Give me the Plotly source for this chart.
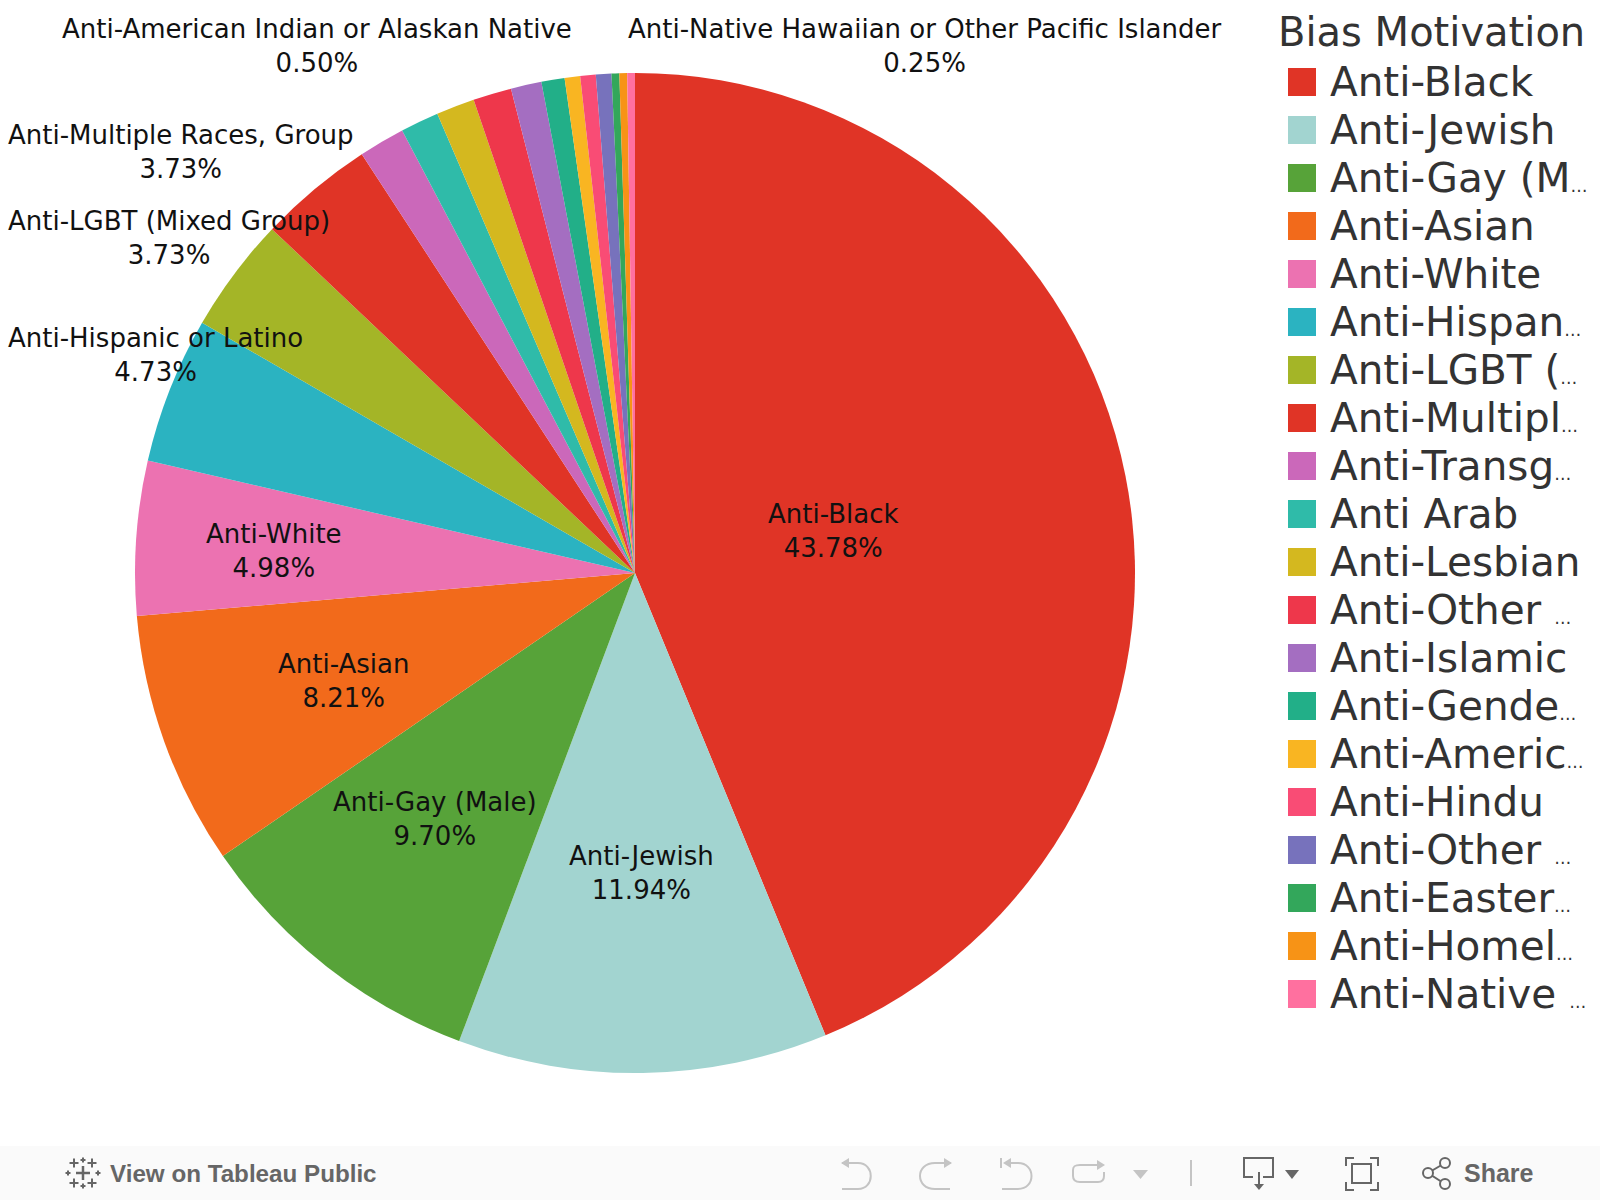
import plotly.graph_objects as go

W, H = 1600, 1200

# ---- data ----
categories = ["Anti-Black", "Anti-Jewish", "Anti-Gay (Male)", "Anti-Asian", "Anti-White",
              "Anti-Hispanic or Latino", "Anti-LGBT (Mixed Group)", "Anti-Multiple Races, Group",
              "Anti-Transgender", "Anti Arab", "Anti-Lesbian", "Anti-Other Race",
              "Anti-Islamic", "Anti-Gender Non-Conforming", "Anti-American Indian or Alaskan Native",
              "Anti-Hindu", "Anti-Other Religion", "Anti-Eastern Orthodox",
              "Anti-Homeless", "Anti-Native Hawaiian or Other Pacific Islander"]
percent = [43.78, 11.94, 9.70, 8.21, 4.98, 4.73, 3.73, 3.73, 1.49, 1.24,
           1.24, 1.24, 0.99, 0.75, 0.50, 0.50, 0.50, 0.25, 0.25, 0.25]
legend_shown = ["Anti-Black", "Anti-Jewish", "Anti-Gay (M|", "Anti-Asian", "Anti-White",
                "Anti-Hispan|", "Anti-LGBT (|", "Anti-Multipl|", "Anti-Transg|", "Anti Arab",
                "Anti-Lesbian", "Anti-Other |", "Anti-Islamic", "Anti-Gende|", "Anti-Americ|",
                "Anti-Hindu", "Anti-Other |", "Anti-Easter|", "Anti-Homel|", "Anti-Native |"]
colors = ["#e03426", "#a2d4d0", "#57a339", "#f26a1b", "#ec72b1", "#2bb3c1", "#a4b527", "#e03426",
          "#cb68ba", "#2fbba9", "#d4b81f", "#ee374b", "#a46ec1", "#22af88", "#f9b522",
          "#f94c75", "#7772bc", "#33a75b", "#f79316", "#ff709f"]

# label placement, in pixels: category -> centre of its two-line label
label_centres = {
    "Anti-Black": (833, 530.5), "Anti-Jewish": (641, 872.5), "Anti-Gay (Male)": (434.5, 818.5),
    "Anti-Asian": (343.5, 680.5), "Anti-White": (274, 550.5), "Anti-Hispanic or Latino": (155, 354.5),
    "Anti-LGBT (Mixed Group)": (169, 238.5), "Anti-Multiple Races, Group": (181, 152),
    "Anti-American Indian or Alaskan Native": (317, 46.5),
    "Anti-Native Hawaiian or Other Pacific Islander": (925, 46.5),
}

FONT = "DejaVu Sans"
TEXT = "#333333"


def fx(x): return x / W
def fy(y): return 1 - y / H


def path(*pts, close=False, **kw):
    d = "M" + " L".join(f"{fx(x):.5f},{fy(y):.5f}" for x, y in pts) + (" Z" if close else "")
    return dict(type="path", path=d, xref="paper", yref="paper", **kw)


def curve(cmds, **kw):
    out = []
    for c in cmds:
        out.append(c[0] + " ".join(f"{fx(c[i]):.5f},{fy(c[i+1]):.5f}" for i in range(1, len(c), 2)))
    return dict(type="path", path=" ".join(out), xref="paper", yref="paper", **kw)


def rect(x0, y0, x1, y1, **kw):
    return dict(type="rect", xref="paper", yref="paper", x0=fx(x0), x1=fx(x1), y0=fy(y0), y1=fy(y1), **kw)


def text(x, y, s, size, color=TEXT, anchor="left", family=FONT):
    return dict(x=fx(x), y=fy(y), xref="paper", yref="paper", text=s, showarrow=False,
                xanchor=anchor, yanchor="middle", align="center",
                font=dict(family=family, size=size, color=color))


fig = go.Figure(go.Pie(
    labels=categories, values=percent, sort=False, direction="clockwise", rotation=0,
    textinfo="none", showlegend=False, marker=dict(colors=colors, line=dict(width=0)),
    domain=dict(x=[135 / W, 1135 / W], y=[1 - 1073 / H, 1 - 73 / H]),
))

shapes, notes = [], []

# slice labels
for name, (x, y) in label_centres.items():
    notes.append(text(x, y, f"{name}<br>{percent[categories.index(name)]:.2f}%", 26, "#111111", "center"))

# legend
notes.append(text(1276, 32, "Bias Motivation", 40))
for i, (lab, col) in enumerate(zip(legend_shown, colors)):
    yc = 82 + 48 * i
    shapes.append(rect(1288, yc - 14, 1316, yc + 14, fillcolor=col, line=dict(width=0)))
    s = lab.replace("|", "<span style='font-size:17px'>…</span>")
    notes.append(text(1328, yc, s, 40.5))

# toolbar
shapes.append(rect(0, 1146, W, H, fillcolor="#fafafa", line=dict(width=0), layer="below"))
GR = "#666666"
LG = "#c4c4c4"
notes.append(text(108, 1173, "<b>View on Tableau Public</b>", 24.2, GR, family="Liberation Sans"))
notes.append(text(1462, 1173, "<b>Share</b>", 25, GR, family="Liberation Sans"))


def plus(x, y, r, w=2):
    shapes.append(path((x - r, y), (x + r, y), line=dict(color=GR, width=w)))
    shapes.append(path((x, y - r), (x, y + r), line=dict(color=GR, width=w)))


plus(83, 1173, 7, 2.5)
for dx, dy in [(-9, -10), (9, -10), (-9, 10), (9, 10)]:
    plus(83 + dx, 1173 + dy, 4.5)
for dx, dy in [(0, -13), (0, 13), (-15, 0), (15, 0)]:
    plus(83 + dx, 1173 + dy, 2.5, 2)

ln = dict(color=LG, width=2)
# undo
shapes.append(curve([("M", 842, 1163), ("L", 858, 1163), ("C", 875, 1163, 875, 1189, 858, 1189), ("L", 842, 1189)], line=ln))
shapes.append(path((841, 1163), (849, 1158), (849, 1168), close=True, fillcolor=LG, line=dict(width=0)))
# redo
shapes.append(curve([("M", 951, 1163), ("L", 935, 1163), ("C", 915, 1163, 915, 1189, 935, 1189), ("L", 950, 1189)], line=ln))
shapes.append(path((952, 1163), (944, 1158), (944, 1168), close=True, fillcolor=LG, line=dict(width=0)))
# revert
shapes.append(curve([("M", 1010, 1163), ("L", 1018, 1163), ("C", 1036, 1163, 1036, 1189, 1018, 1189), ("L", 1002, 1189)], line=ln))
shapes.append(path((1003, 1163), (1011, 1158), (1011, 1168), close=True, fillcolor=LG, line=dict(width=0)))
shapes.append(path((1001, 1158), (1001, 1168), line=ln))
# refresh
shapes.append(curve([("M", 1104, 1172), ("L", 1104, 1176), ("C", 1104, 1180, 1102, 1182, 1098, 1182), ("L", 1080, 1182),
                     ("C", 1075, 1182, 1073, 1180, 1073, 1176), ("L", 1073, 1170), ("C", 1073, 1166, 1075, 1165, 1080, 1165), ("L", 1098, 1165)], line=ln))
shapes.append(path((1105, 1165), (1097, 1160), (1097, 1170), close=True, fillcolor=LG, line=dict(width=0)))
shapes.append(path((1133, 1170), (1148, 1170), (1140.5, 1179), close=True, fillcolor=LG, line=dict(width=0)))
shapes.append(path((1191, 1160), (1191, 1186), line=ln))
# download
dk = dict(color=GR, width=2)
shapes.append(path((1253, 1177), (1244, 1177), (1244, 1158), (1273, 1158), (1273, 1177), (1263, 1177), line=dk))
shapes.append(path((1259, 1172), (1259, 1186), line=dk))
shapes.append(path((1254, 1184), (1264, 1184), (1259, 1190), close=True, fillcolor=GR, line=dict(width=0)))
shapes.append(path((1285, 1170), (1299, 1170), (1292, 1179), close=True, fillcolor=GR, line=dict(width=0)))
# fullscreen
shapes.append(rect(1352, 1164, 1371, 1183, line=dk))
for p in [((1346, 1166), (1346, 1158), (1354, 1158)), ((1370, 1158), (1378, 1158), (1378, 1166)),
          ((1346, 1182), (1346, 1190), (1354, 1190)), ((1370, 1190), (1378, 1190), (1378, 1182))]:
    shapes.append(path(*p, line=dk))
# share
shapes.append(path((1445, 1163), (1428, 1173), (1445, 1184), line=dk))
for cx, cy in [(1445, 1163), (1428, 1173), (1445, 1184)]:
    shapes.append(dict(type="circle", xref="paper", yref="paper", x0=fx(cx - 5), x1=fx(cx + 5),
                       y0=fy(cy + 5), y1=fy(cy - 5), fillcolor="#fafafa", line=dk))

fig.update_layout(width=W, height=H, margin=dict(l=0, r=0, t=0, b=0), paper_bgcolor="white",
                  shapes=shapes, annotations=notes, font=dict(family=FONT))
fig.write_html("out.html", config=dict(displayModeBar=False),
               post_script="document.body.style.margin='0';document.body.style.overflow='hidden';")
